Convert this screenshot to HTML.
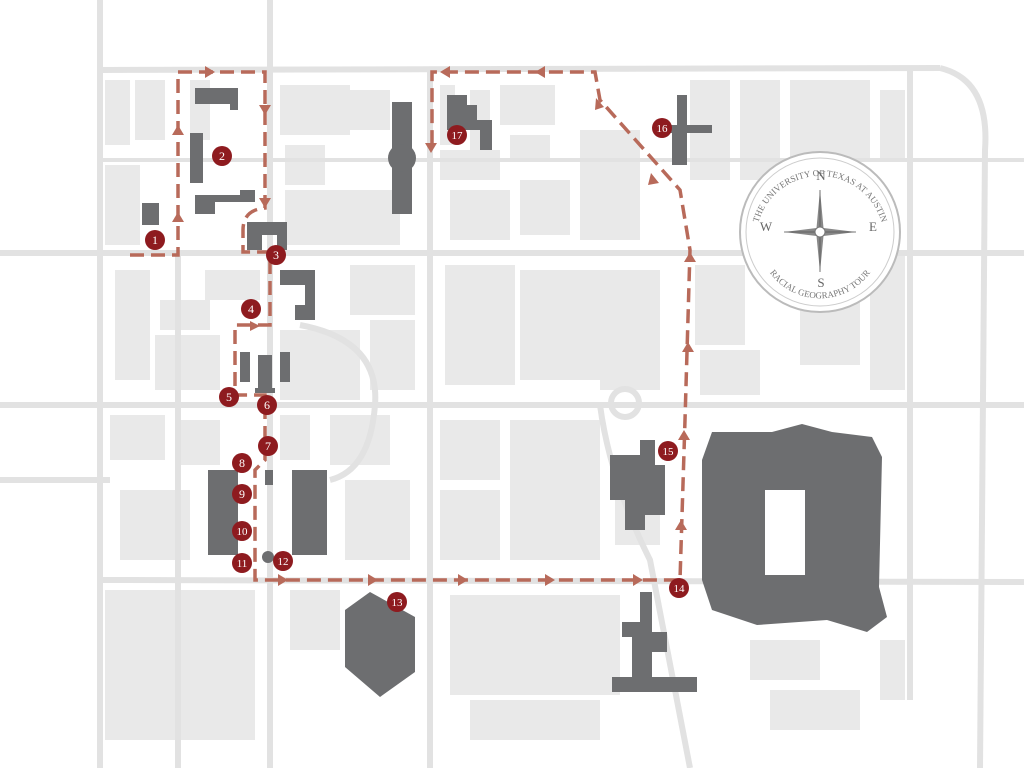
<!DOCTYPE html>
<html><head><meta charset="utf-8"><style>
html,body{margin:0;padding:0;background:#fff;}
svg{display:block;font-family:"Liberation Serif",serif;}
</style></head><body>
<svg width="1024" height="768" viewBox="0 0 1024 768">
<rect width="1024" height="768" fill="#fff"/>
<g fill="#e9e9e9">
<rect x="105" y="80" width="25" height="65"/><rect x="135" y="80" width="30" height="60"/>
<rect x="105" y="165" width="35" height="80"/><rect x="190" y="80" width="20" height="60"/>
<rect x="280" y="85" width="70" height="50"/><rect x="285" y="145" width="40" height="40"/>
<rect x="285" y="190" width="115" height="55"/><rect x="350" y="90" width="40" height="40"/>
<rect x="440" y="85" width="15" height="60"/><rect x="500" y="85" width="55" height="40"/>
<rect x="440" y="150" width="60" height="30"/><rect x="510" y="135" width="40" height="25"/>
<rect x="450" y="190" width="60" height="50"/><rect x="520" y="180" width="50" height="55"/>
<rect x="580" y="130" width="60" height="110"/><rect x="470" y="90" width="20" height="60"/>
<rect x="690" y="80" width="40" height="100"/><rect x="740" y="80" width="40" height="100"/>
<rect x="790" y="80" width="80" height="80"/><rect x="880" y="90" width="25" height="70"/>
<rect x="695" y="265" width="50" height="80"/><rect x="700" y="350" width="60" height="45"/>
<rect x="800" y="300" width="60" height="65"/><rect x="870" y="250" width="35" height="140"/>
<rect x="115" y="270" width="35" height="110"/><rect x="160" y="300" width="50" height="30"/>
<rect x="155" y="335" width="65" height="55"/><rect x="205" y="270" width="55" height="30"/>
<rect x="280" y="330" width="80" height="70"/><rect x="350" y="265" width="65" height="50"/>
<rect x="370" y="320" width="45" height="70"/><rect x="445" y="265" width="70" height="120"/>
<rect x="520" y="270" width="80" height="110"/><rect x="600" y="270" width="60" height="120"/>
<rect x="110" y="415" width="55" height="45"/><rect x="175" y="420" width="45" height="45"/>
<rect x="120" y="490" width="70" height="70"/><rect x="280" y="415" width="30" height="45"/>
<rect x="330" y="415" width="60" height="50"/><rect x="345" y="480" width="65" height="80"/>
<rect x="440" y="420" width="60" height="60"/><rect x="510" y="420" width="90" height="140"/>
<rect x="440" y="490" width="60" height="70"/><rect x="615" y="485" width="45" height="60"/>
<rect x="105" y="590" width="70" height="150"/><rect x="180" y="590" width="75" height="150"/>
<rect x="290" y="590" width="50" height="60"/><rect x="450" y="595" width="170" height="100"/>
<rect x="470" y="700" width="130" height="40"/><rect x="750" y="640" width="70" height="40"/>
<rect x="770" y="690" width="90" height="40"/><rect x="880" y="640" width="25" height="60"/>
</g>
<g stroke="#e2e2e2" stroke-width="6" fill="none">
<line x1="100" y1="0" x2="100" y2="768"/>
<line x1="0" y1="253" x2="1024" y2="253"/>
<line x1="100" y1="70" x2="940" y2="68"/>
<line x1="0" y1="405" x2="1024" y2="405"/>
<line x1="0" y1="480" x2="110" y2="480"/>
<line x1="100" y1="580" x2="1024" y2="582"/>
<line x1="430" y1="70" x2="430" y2="768"/>
<line x1="270" y1="0" x2="270" y2="768"/>
<line x1="910" y1="70" x2="910" y2="700"/>
<line x1="178" y1="253" x2="178" y2="768"/>
<path d="M940 68 Q990 80 985 150 L980 768"/>
<path d="M300 325 Q380 340 375 405 Q370 470 330 480"/>
<path d="M600 405 Q610 480 650 560 L690 768"/>
<circle cx="625" cy="403" r="14"/>
<line x1="100" y1="160" x2="1024" y2="160" stroke-width="4"/>
</g>
<g fill="#6d6e70">
<path d="M195 88h40v8h-5v-8h8v22h-8v-6h-35z"/>
<rect x="190" y="133" width="13" height="50"/>
<path d="M195 195h45v-5h15v12h-40v12h-20z"/>
<rect x="142" y="203" width="17" height="22"/>
<path d="M247 222h40v28h-10v-15h-15v15h-15z"/>
<path d="M280 270h35v50h-20v-15h10v-20h-25z"/>
<rect x="392" y="102" width="20" height="112"/><ellipse cx="402" cy="158" rx="14" ry="14"/>
<path d="M447 95h20v10h10v15h15v30h-12v-20h-33z"/>
<path d="M677 95h10v30h25v8h-25v32h-15v-32h-10v-8h15z"/>
<rect x="240" y="352" width="10" height="30"/><rect x="280" y="352" width="10" height="30"/>
<rect x="258" y="355" width="14" height="35"/><rect x="255" y="388" width="20" height="5"/>
<rect x="208" y="470" width="30" height="85"/><rect x="292" y="470" width="35" height="85"/>
<rect x="265" y="470" width="8" height="15"/><circle cx="268" cy="557" r="6"/>
<path d="M345 610l25-18 45 25v55l-35 25-35-30z"/>
<path d="M610 455h30v-15h15v25h10v50h-20v15h-20v-30h-15z"/>
<path d="M712 432h60l30-8 30 8 40 5 10 20-3 130 8 30-20 15-40-12-70 5-45-15-10-30 0-120z"/>
<path d="M640 592h12v40h15v20h-15v25h45v15h-85v-15h20v-40h-10v-15h18z"/>
</g>
<rect x="765" y="490" width="40" height="85" fill="#fff"/>
<path d="M130 255H178V72H265V208Q243 210 243 230V252H270V325H235V395H265V460L255 470V580H680L685 420L690 250L680 190L600 100L595 72H432V150" fill="none" stroke="#b86a5a" stroke-width="3.5" stroke-dasharray="14 7"/>
<g fill="#b86a5a">
<path d="M172 222l6-10 6 10z"/><path d="M172 135l6-10 6 10z"/>
<path d="M205 66l10 6-10 6z"/><path d="M259 105l6 10 6-10z"/><path d="M259 198l6 10 6-10z"/>
<path d="M260 326l-10-5v10z"/>
<path d="M278 574l10 6-10 6z"/><path d="M368 574l10 6-10 6z"/><path d="M458 574l10 6-10 6z"/><path d="M545 574l10 6-10 6z"/><path d="M633 574l10 6-10 6z"/>
<path d="M675 530l6-10 6 10z"/><path d="M678 440l6-10 6 10z"/><path d="M682 352l6-10 6 10z"/><path d="M684 262l6-10 6 10z"/>
<path d="M648 185l3-12 8 10z"/><path d="M595 110l1-12 8 9z"/>
<path d="M545 66l-10 6 10 6z"/><path d="M450 66l-10 6 10 6z"/><path d="M425 143l6 10 6-10z"/>
</g>
<g fill="#8e1b1f">
<circle cx="155" cy="240" r="10"/><circle cx="222" cy="156" r="10"/><circle cx="276" cy="255" r="10"/><circle cx="251" cy="309" r="10"/>
<circle cx="229" cy="397" r="10"/><circle cx="267" cy="405" r="10"/><circle cx="268" cy="446" r="10"/><circle cx="242" cy="463" r="10"/>
<circle cx="242" cy="494" r="10"/><circle cx="242" cy="531" r="10"/><circle cx="242" cy="563" r="10"/><circle cx="283" cy="561" r="10"/>
<circle cx="397" cy="602" r="10"/><circle cx="679" cy="588" r="10"/><circle cx="668" cy="451" r="10"/><circle cx="662" cy="128" r="10"/><circle cx="457" cy="135" r="10"/>
</g>
<g fill="#fff" font-size="12" text-anchor="middle">
<text x="155" y="244">1</text><text x="222" y="160">2</text><text x="276" y="259">3</text><text x="251" y="313">4</text>
<text x="229" y="401">5</text><text x="267" y="409">6</text><text x="268" y="450">7</text><text x="242" y="467">8</text>
<text x="242" y="498">9</text><text x="242" y="535" font-size="11">10</text><text x="242" y="567" font-size="11">11</text><text x="283" y="565" font-size="11">12</text>
<text x="397" y="606" font-size="11">13</text><text x="679" y="592" font-size="11">14</text><text x="668" y="455" font-size="11">15</text><text x="662" y="132" font-size="11">16</text><text x="457" y="139" font-size="11">17</text>
</g>
<circle cx="820" cy="232" r="80" fill="#fff" stroke="#bbb" stroke-width="2"/>
<circle cx="820" cy="232" r="74" fill="none" stroke="#ccc" stroke-width="1"/>
<defs>
<path id="top" d="M756 240 A64 64 0 0 1 884 240"/>
<path id="bot" d="M760 252 A62 62 0 0 0 880 252"/>
</defs>
<text font-size="9" fill="#777"><textPath href="#top" startOffset="50%" text-anchor="middle">THE UNIVERSITY OF TEXAS AT AUSTIN</textPath></text>
<text font-size="9" fill="#777"><textPath href="#bot" startOffset="50%" text-anchor="middle">RACIAL GEOGRAPHY TOUR</textPath></text>
<g fill="#666" font-size="13" text-anchor="middle"><text x="821" y="180">N</text><text x="821" y="287">S</text><text x="766" y="231">W</text><text x="873" y="231">E</text></g>
<path d="M820 190L823.5 228L856 232L823.5 236L820 272L816.5 236L784 232L816.5 228Z" fill="#888"/>
<path d="M820 190L820 272M784 232L856 232" stroke="#555" stroke-width="0.8"/>
<circle cx="820" cy="232" r="5" fill="#fff" stroke="#777"/>
</svg>
</body></html>
